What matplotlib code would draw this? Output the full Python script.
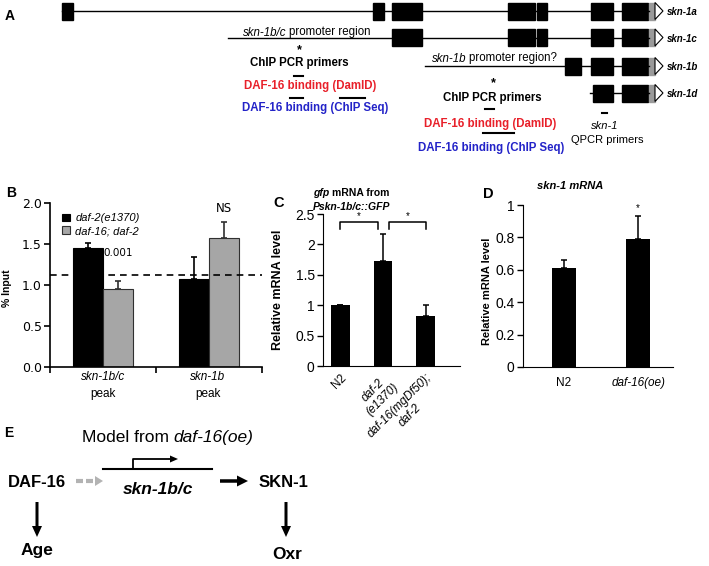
import matplotlib
matplotlib.use("Agg")
import matplotlib.pyplot as plt
from matplotlib import font_manager
from matplotlib.patches import Rectangle, Polygon

plt.rcParams['font.family'] = ['Liberation Sans', 'DejaVu Sans']

# the gene diagram uses a condensed face if one is installed
try:
    font_manager.findfont(font_manager.FontProperties(family='Liberation Sans Narrow'),
                          fallback_to_default=False)
    NARROW, NSCALE = 'Liberation Sans Narrow', 1.2
except ValueError:
    NARROW, NSCALE = 'Liberation Sans', 1.0

W, H = 709, 566
RED = '#e8202a'
BLUE = '#2323c8'

# ---- panel A: gene models (figure pixel positions) ----
gene_names = ['skn-1a', 'skn-1c', 'skn-1b', 'skn-1d']
gene_rows = [11, 37.5, 66, 93]
gene_starts = [62, 228, 425, 590]
gene_exons = [
    [(62, 73), (373, 384), (392, 422), (508, 535), (537, 547), (591, 613), (622, 648)],
    [(392, 422), (508, 535), (537, 547), (591, 613), (622, 648)],
    [(565, 581), (591, 613), (622, 648)],
    [(593, 613), (622, 648)],
]
gene_end = 649

# ---- panel B: ChIP ----
b_groups = ['skn-1b/c', 'skn-1b']
b_strains = ['daf-2(e1370)', 'daf-16; daf-2']
b_daf2 = [1.45, 1.07]
b_daf2_err = [0.06, 0.27]
b_daf16 = [0.95, 1.57]
b_daf16_err = [0.10, 0.20]
b_cutoff = 1.12
b_pvals = ['0.001', 'NS']
b_pval_y = [1.39, 1.93]

# ---- panel C: gfp mRNA ----
c_labels = ['N2', 'daf-2\n(e1370)', 'daf-16(mgDf50);\ndaf-2']
c_values = [1.0, 1.72, 0.82]
c_err = [0.0, 0.45, 0.18]

# ---- panel D: skn-1 mRNA ----
d_labels = ['N2', 'daf-16(oe)']
d_values = [0.61, 0.79]
d_err = [0.05, 0.14]


fig = plt.figure(figsize=(W / 100, H / 100), dpi=100)


def px_axes(l, t, r, b):
    return fig.add_axes([l / W, 1 - b / H, (r - l) / W, (b - t) / H])


# overlay in pixel units for the diagrams and free text
ov = fig.add_axes([0, 0, 1, 1], zorder=10)
ov.set_xlim(0, W)
ov.set_ylim(H, 0)
ov.axis('off')
ov.patch.set_visible(False)


def rich(x, y, parts, ha='left', size=8, color='black', family=None):
    """Draw text pieces with different styles side by side.
    A leading/trailing blank in a piece becomes a fixed word gap."""
    r = fig.canvas.get_renderer()
    space = 0.26 * size * 100 / 72
    ts, gaps = [], []
    for s, kw in parts:
        t = ov.text(0, y, s.strip(), fontsize=size, color=color, va='center_baseline',
                    ha='left', **kw)
        if family:
            t.set_fontfamily(family)
        ts.append(t)
        gaps.append((space if s.startswith(' ') else 0, space if s.endswith(' ') else 0))
    ws = [t.get_window_extent(r).width for t in ts]
    total = sum(ws) + sum(a + b for a, b in gaps)
    x0 = x - total / 2 if ha == 'center' else x
    for t, w, (g0, g1) in zip(ts, ws, gaps):
        x0 += g0
        t.set_x(x0)
        x0 += w + g1


IT = {'fontstyle': 'italic'}
BO = {'fontweight': 'bold'}
BI = {'fontweight': 'bold', 'fontstyle': 'italic'}
NO = {}

# ================= A =================
ov.text(10, 16, 'A', fontsize=10, fontweight='bold', ha='center', va='center')
for name, y, x0, exons in zip(gene_names, gene_rows, gene_starts, gene_exons):
    ov.plot([x0, gene_end], [y, y], color='black', lw=1.0)
    for a, b in exons:
        ov.add_patch(Rectangle((a, y - 8.5), b - a, 17, color='black'))
    ov.add_patch(Rectangle((gene_end, y - 8.5), 6, 17, color='#9a9a9a'))
    ov.add_patch(Polygon([(655, y - 8.5), (655, y + 8.5), (663, y)], closed=True,
                         facecolor='white', edgecolor='black', lw=0.8))
    ov.text(667, y, name, fontfamily=NARROW, fontsize=7 * NSCALE, fontweight='bold',
            fontstyle='italic', va='center_baseline')

fs = 8.3 * NSCALE
rich(243, 31, [('skn-1b/c', IT), (' promoter region', NO)], size=8.3 * NSCALE, family=NARROW)
rich(432, 57, [('skn-1b', IT), (' promoter region?', NO)], size=8.3 * NSCALE, family=NARROW)

# left primer block
ov.text(299, 56, '*', fontsize=9, fontweight='bold', ha='center', va='bottom')
ov.text(299, 66, 'ChIP PCR primers', fontfamily=NARROW, fontsize=fs, fontweight='bold',
        ha='center', va='baseline')
ov.plot([294, 303], [76, 76], color='black', lw=1.5)
ov.text(310, 85, 'DAF-16 binding (DamID)', fontfamily=NARROW, fontsize=fs, fontweight='bold',
        color=RED, ha='center', va='center_baseline')
ov.plot([290, 303], [98, 98], color='black', lw=1.5)
ov.plot([340, 365], [98, 98], color='black', lw=1.5)
ov.text(315, 107, 'DAF-16 binding (ChIP Seq)', fontfamily=NARROW, fontsize=fs, fontweight='bold',
        color=BLUE, ha='center', va='center_baseline')

# right primer block
ov.text(493, 89, '*', fontsize=9, fontweight='bold', ha='center', va='bottom')
ov.text(492, 101, 'ChIP PCR primers', fontfamily=NARROW, fontsize=fs, fontweight='bold',
        ha='center', va='baseline')
ov.plot([485, 494], [109, 109], color='black', lw=1.5)
ov.text(490, 122, 'DAF-16 binding (DamID)', fontfamily=NARROW, fontsize=fs, fontweight='bold',
        color=RED, ha='center', va='center_baseline')
ov.plot([483, 514], [133, 133], color='black', lw=1.5)
ov.text(491, 146, 'DAF-16 binding (ChIP Seq)', fontfamily=NARROW, fontsize=fs, fontweight='bold',
        color=BLUE, ha='center', va='center_baseline')
ov.plot([602, 607], [113, 113], color='black', lw=1.5)
ov.text(605, 125, 'skn-1', fontfamily=NARROW, fontsize=8 * NSCALE, fontstyle='italic',
        ha='center', va='center_baseline')
ov.text(607, 139, 'QPCR primers', fontfamily=NARROW, fontsize=8 * NSCALE,
        ha='center', va='center_baseline')

# ================= B =================
ax_b = px_axes(50, 203, 262, 367)
xb = [0, 1]
bw = 0.284
ax_b.bar([x - bw / 2 for x in xb], b_daf2, bw, color='black', edgecolor='black', lw=0.8,
         label=b_strains[0])
ax_b.bar([x + bw / 2 for x in xb], b_daf16, bw, color='#a6a6a6', edgecolor='#303030', lw=0.8,
         label=b_strains[1])
ax_b.errorbar([x - bw / 2 for x in xb], b_daf2, yerr=[[0, 0], b_daf2_err], fmt='none',
              ecolor='black', elinewidth=1.2, capsize=2.5, capthick=1.2)
ax_b.errorbar([x + bw / 2 for x in xb], b_daf16, yerr=[[0, 0], b_daf16_err], fmt='none',
              ecolor='#303030', elinewidth=1.2, capsize=2.5, capthick=1.2)
ax_b.axhline(b_cutoff, color='black', lw=1.2, ls=(0, (4, 3)))
ax_b.set_xlim(-0.5, 1.5)
ax_b.set_ylim(0, 2.0)
ax_b.set_yticks([0, 0.5, 1.0, 1.5, 2.0])
ax_b.set_yticklabels(['0.0', '0.5', '1.0', '1.5', '2.0'], fontfamily='DejaVu Sans', fontsize=9)
ax_b.set_xticks(xb)
ax_b.set_xticklabels([])
ax_b.set_xticks([-0.5, 0.5, 1.5], minor=True)
ax_b.tick_params(axis='x', which='major', length=0)
ax_b.tick_params(axis='x', which='minor', length=4, width=1.2, direction='out')
ax_b.tick_params(axis='y', length=4, width=1.2, direction='out', pad=2)
for s in ['top', 'right']:
    ax_b.spines[s].set_visible(False)
for s in ['left', 'bottom']:
    ax_b.spines[s].set_linewidth(1.2)
for x, txt, y in zip([xb[0] + bw / 2, xb[1] + bw / 2], b_pvals, b_pval_y):
    ax_b.text(x, y, txt, ha='center', va='center', fontfamily='DejaVu Sans',
              fontsize=7.5 if txt != 'NS' else 8.5)
ax_b.legend(loc='upper left', bbox_to_anchor=(0.03, 0.97), frameon=False, handlelength=0.7,
            handleheight=0.7, handletextpad=0.5, labelspacing=0.25, borderpad=0,
            prop={'style': 'italic', 'size': 8})
for x, g in zip([103, 208], b_groups):
    ov.text(x, 376, g, fontsize=8.5, fontstyle='italic', ha='center', va='center_baseline')
    ov.text(x, 392, 'peak', fontsize=8.5, ha='center', va='center_baseline')
ov.text(7, 288, '% Input', fontsize=7.5, fontweight='bold', rotation=90, ha='center', va='center')
ov.text(11, 193, 'B', fontsize=10, fontweight='bold', ha='center', va='center')

# ================= C =================
ax_c = px_axes(323, 214, 460, 366)
xc = range(len(c_values))
ax_c.bar(xc, c_values, 0.44, color='black')
ax_c.errorbar(xc, c_values, yerr=[[0] * 3, c_err], fmt='none', ecolor='black',
              elinewidth=1.1, capsize=2.2, capthick=1.1)
ax_c.set_xlim(-0.4, 2.8)
ax_c.set_ylim(0, 2.5)
ax_c.set_yticks([0, 0.5, 1, 1.5, 2, 2.5])
ax_c.set_yticklabels(['0', '0.5', '1', '1.5', '2', '2.5'], fontsize=10)
ax_c.set_xticks(list(xc))
ax_c.set_xticklabels(c_labels, rotation=45, ha='right', rotation_mode='anchor', fontsize=8.5,
                     multialignment='center')
for lab in ax_c.get_xticklabels()[1:]:
    lab.set_fontstyle('italic')
ax_c.tick_params(axis='x', length=0, pad=4)
ax_c.tick_params(axis='y', length=4, width=1.0, pad=2)
for s in ['top', 'right']:
    ax_c.spines[s].set_visible(False)
# significance brackets
for a, b in [(0, 1), (1, 2)]:
    x0 = a + (0.14 if a == 1 else 0)
    x1 = b - (0.12 if b == 1 else 0)
    ax_c.plot([x0, x0, x1, x1], [2.25, 2.37, 2.37, 2.25], color='black', lw=1.1, clip_on=False)
    ax_c.text((x0 + x1) / 2, 2.47, '*', ha='center', va='center', fontsize=7, clip_on=False)
rich(313, 192, [('gfp', BI), (' mRNA from', BO)], size=7.5)
rich(313, 206, [('Pskn-1b/c::GFP', BI)], size=7.5)
ov.text(278, 290, 'Relative mRNA level', fontsize=9, fontweight='bold', rotation=90,
        ha='center', va='center')
ov.text(279, 203, 'C', fontsize=10.5, fontweight='bold', ha='center', va='center')

# ================= D =================
ax_d = px_axes(523, 205, 673, 367)
xd = range(len(d_values))
ax_d.bar(xd, d_values, 0.324, color='black')
ax_d.errorbar(xd, d_values, yerr=[[0] * 2, d_err], fmt='none', ecolor='black',
              elinewidth=1.1, capsize=2.5, capthick=1.1)
ax_d.set_xlim(-0.554, 1.47)
ax_d.set_ylim(0, 1)
ax_d.set_yticks([0, 0.2, 0.4, 0.6, 0.8, 1])
ax_d.set_yticklabels(['0', '0.2', '0.4', '0.6', '0.8', '1'], fontsize=10)
ax_d.set_xticks(list(xd))
ax_d.set_xticklabels(d_labels, fontsize=8.5)
ax_d.get_xticklabels()[1].set_fontstyle('italic')
ax_d.tick_params(axis='x', length=0, pad=7)
ax_d.tick_params(axis='y', length=4, width=1.0, pad=2)
for s in ['top', 'right']:
    ax_d.spines[s].set_visible(False)
ax_d.text(1, 0.98, '*', ha='center', va='center', fontsize=7)
rich(570, 185, [('skn-1 mRNA', BI)], ha='center', size=8)
ov.text(487, 291, 'Relative mRNA level', fontsize=8, fontweight='bold', rotation=90,
        ha='center', va='center')
ov.text(488, 194, 'D', fontsize=10.5, fontweight='bold', ha='center', va='center')

# ================= E =================
ov.text(9, 433, 'E', fontsize=10, fontweight='bold', ha='center', va='center')
rich(82, 436, [('Model from ', NO), ('daf-16(oe)', IT)], size=12.5)
ov.text(37, 481, 'DAF-16', fontsize=12, fontweight='bold', ha='center', va='center_baseline')
ov.plot([76, 83], [481, 481], color='#b3b3b3', lw=3, solid_capstyle='butt')
ov.plot([86, 93], [481, 481], color='#b3b3b3', lw=3, solid_capstyle='butt')
ov.arrow(95, 481, 8, 0, width=0.5, head_width=10, head_length=8, length_includes_head=True,
         color='#b3b3b3', lw=0)
ov.plot([103, 212], [469, 469], color='black', lw=1.5)
ov.plot([133, 133, 171], [469, 459, 459], color='black', lw=1.3)
ov.arrow(168, 459, 10, 0, width=0.3, head_width=7, head_length=8, length_includes_head=True,
         color='black', lw=0)
rich(158, 488, [('skn-1b/c', BI)], ha='center', size=12.5)
ov.arrow(220, 481, 28, 0, width=3.5, head_width=11, head_length=11, length_includes_head=True,
         color='black', lw=0)
ov.text(259, 481, 'SKN-1', fontsize=12, fontweight='bold', ha='left', va='center_baseline')
for x in [37, 286]:
    ov.arrow(x, 502, 0, 35, width=3, head_width=10, head_length=11, length_includes_head=True,
             color='black', lw=0)
ov.text(37, 549, 'Age', fontsize=12.5, fontweight='bold', ha='center', va='center_baseline')
ov.text(287, 553, 'Oxr', fontsize=12.5, fontweight='bold', ha='center', va='center_baseline')

fig.savefig('out.png', dpi=100)
